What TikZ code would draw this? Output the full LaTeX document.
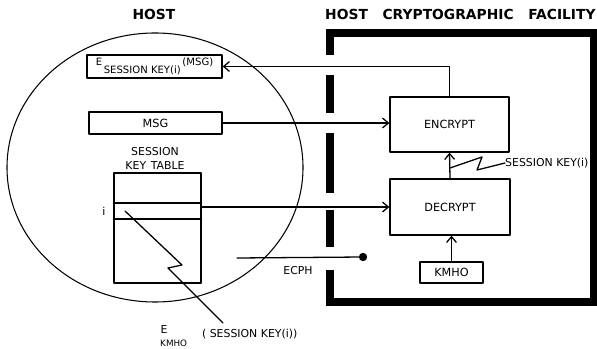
\documentclass[tikz,border=0pt]{standalone}
\usepackage{fontspec}
\setmainfont{DejaVu Sans}
\usetikzlibrary{arrows.meta}
\tikzset{
  box/.style={draw, line width=1.1pt, inner sep=0pt, font=\fontsize{9.6}{10}\selectfont},
  lbl/.style={inner sep=0pt, font=\fontsize{9.3}{11.5}\selectfont},
  ttl/.style={inner sep=0pt, font=\bfseries\fontsize{11.8}{12}\selectfont},
  conn/.style={line width=1.1pt, -{Straight Barb[angle=80:6.5pt]}},
  wire/.style={line width=1.1pt},
  wall/.style={line width=0.24cm, line cap=butt},
}

\begin{document}
\begin{tikzpicture}[line cap=round,line join=round,x=0.03cm,y=-0.03cm]
    \useasboundingbox (0,0) rectangle (597,349);

    % headings
    \node[ttl] (hosttitle) at (154,14) {HOST};
    \node[ttl, anchor=west] (hcftitle) at (325,14) {HOST\hspace{0.44cm}CRYPTOGRAPHIC\hspace{0.44cm}FACILITY};

    % host side
    \draw[line width=0.9pt] (155,167.5) ellipse [x radius=4.44cm, y radius=4.035cm];

    % wall of the facility, open on the host side
    \draw[wall, line join=miter] (330,55) -- (330,33.5) -- (593.5,33.5) -- (593.5,302) -- (330,302) -- (330,270);
    \foreach \ya/\yb in {75/113, 133/193, 210/247}
        \draw[wall] (330,\ya) -- (330,\yb);

    % boxes
    \node[box, minimum width=4.05cm, minimum height=0.69cm, font=\fontsize{8.6}{9}\selectfont] (emsg) at (154.5,66.5)
        {E\raisebox{-0.22cm}{\,SESSION KEY(i)}\,(MSG)};
    \node[box, minimum width=3.99cm, minimum height=0.66cm] (msg) at (155.5,123) {MSG};
    \node[box, minimum width=3.57cm, minimum height=1.65cm] (encrypt) at (449.5,124.5) {ENCRYPT};
    \node[box, minimum width=3.6cm, minimum height=1.68cm] (decrypt) at (450,207) {DECRYPT};
    \node[box, minimum width=1.89cm, minimum height=0.63cm] (kmho) at (451.5,272.5) {KMHO};

    % session key table
    \node[box, minimum width=2.61cm, minimum height=3.3cm] (keytable) at (157.5,228) {};
    \node[lbl, align=center] (tabletitle) at (155,158.5) {SESSION\\KEY\hspace{0.14cm}TABLE};
    \coordinate (rowtop) at (0,203);
    \coordinate (rowbot) at (0,219);
    \draw[wire] (keytable.west |- rowtop) -- (keytable.east |- rowtop);
    \draw[wire] (keytable.west |- rowbot) -- (keytable.east |- rowbot);
    \node[lbl] (rowi) at (104,211) {i};

    % Edges
    \draw[conn] (encrypt.north) |- (emsg.east);
    \draw[conn] (msg.east) -- (msg.east -| encrypt.west);
    \coordinate (tabout) at (keytable.east |- decrypt.west);
    \draw[conn] (tabout) -- (decrypt.west);
    \draw[conn] (kmho.north) -- (kmho.north |- decrypt.south);
    \draw[conn] (decrypt.north) -- (encrypt.south);

    % session key tag
    \node[lbl, anchor=west] (keylbl) at (505,163) {SESSION KEY(i)};
    \coordinate (keytap) at (450,168);
    \draw[wire] (keytap) -- (482,157) -- (477,170) -- (keylbl.west);

    % ECPH
    \coordinate (ecphend) at (237,258);
    \node[circle, fill, inner sep=0pt, minimum size=0.25cm] (ecphdot) at (363,257) {};
    \draw[wire] (ecphend) -- (ecphdot);
    \node[lbl] (ecph) at (298,271) {ECPH};

    % wrapped key entry
    \coordinate (rowtap) at (125,211);
    \coordinate (wraptip) at (223,323);
    \draw[wire] (rowtap) -- (182,265) -- (168,268) -- (wraptip);
    \node[lbl, anchor=base] (ekE) at (164,333) {E};
    \node[lbl, font=\fontsize{7.5}{8}\selectfont, anchor=base west] (ekkmho) at (160,346) {KMHO};
    \node[lbl, anchor=base west] (ekarg) at (202,337) {(\hspace{0.1cm}SESSION KEY(i))};
\end{tikzpicture}
\end{document}
